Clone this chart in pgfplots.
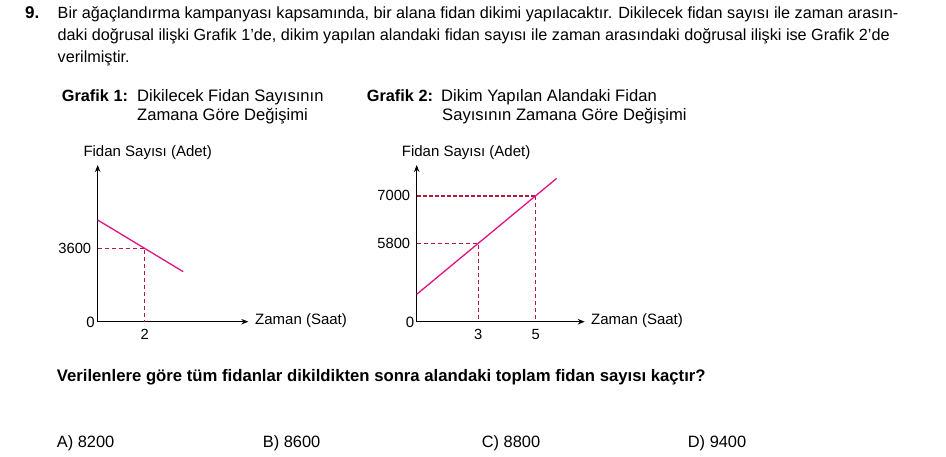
\documentclass[border=0pt]{standalone}
\usepackage{fontspec}
\setmainfont{Liberation Sans}
\usepackage{pgfplots}
\pgfplotsset{compat=1.18}
\usetikzlibrary{arrows.meta}

\definecolor{hatcol}{RGB}{226,18,128}
\definecolor{kesik}{RGB}{178,28,58}

\newcommand\govde{\fontsize{16.2}{18}\selectfont}
\newcommand\baslik{\fontsize{16.6}{18}\selectfont}
\newcommand\eksen{\fontsize{15}{17}\selectfont}

\pgfplotsset{
  grafik/.style={
    axis lines=left,
    axis line style={line width=0.9pt,-{Stealth[length=7pt,width=5.5pt]}},
    scale only axis, clip=false,
    major tick length=0pt,
    /pgf/number format/assume math mode=true,
    /pgf/number format/1000 sep={},
    tick label style={font=\fontsize{14.7}{16}\selectfont},
    xticklabel style={yshift=-4pt},
    yticklabel style={xshift=-3pt},
    anchor=south west, height=156.7pt,
  },
  cizgi/.style={hatcol, line width=1.3pt, no marks},
  ince/.style={kesik, line width=0.8pt, dash pattern=on 4pt off 3pt, no marks},
  kalin/.style={kesik, line width=1.6pt, dash pattern=on 4pt off 2pt, no marks},
}

\begin{document}
\begin{tikzpicture}
\begin{scope}[x=1pt,y=1pt,every node/.style={inner sep=0pt,font=\govde}]
\useasboundingbox (0,0) rectangle (946,-457);

% soru metni
\node[anchor=base west,font=\fontsize{17}{18}\bfseries] at (25,-18.3) {9.};
\node[anchor=base west] at (57.5,-18.3) {Bir ağaçlandırma kampanyası kapsamında, bir alana fidan dikimi yapılacaktır. Dikilecek fidan sayısı ile zaman arasın-};
\node[anchor=base west] at (57.5,-40.7) {daki doğrusal ilişki Grafik 1’de, dikim yapılan alandaki fidan sayısı ile zaman arasındaki doğrusal ilişki ise Grafik 2’de};
\node[anchor=base west] at (57.5,-62.3) {verilmiştir.};

% basliklar
\node[anchor=base west,font=\fontsize{16.3}{18}\bfseries] at (61.7,-101.7) {Grafik 1:};
\node[anchor=base west,font=\baslik] at (137,-101.7) {Dikilecek Fidan Sayısının};
\node[anchor=base west,font=\baslik] at (137,-120.7) {Zamana Göre Değişimi};
\node[anchor=base west,font=\fontsize{16.3}{18}\bfseries] at (366.7,-101.3) {Grafik 2:};
\node[anchor=base west,font=\baslik] at (441,-101.3) {Dikim Yapılan Alandaki Fidan};
\node[anchor=base west,font=\baslik] at (442,-120.3) {Sayısının Zamana Göre Değişimi};

% eksen adlari
\node[anchor=base west,font=\eksen] at (83.3,-156.7) {Fidan Sayısı (Adet)};
\node[anchor=base west,font=\eksen] at (255,-324.3) {Zaman (Saat)};
\node[font=\eksen] at (90.5,-322.5) {0};
\node[anchor=base west,font=\eksen] at (401.7,-156.7) {Fidan Sayısı (Adet)};
\node[anchor=base west,font=\eksen] at (591,-324.3) {Zaman (Saat)};
\node[font=\eksen] at (410,-322.5) {0};

% soru koku ve secenekler
\node[anchor=base west,font=\fontsize{16.7}{18}\bfseries] at (56.7,-381.7) {Verilenlere göre tüm fidanlar dikildikten sonra alandaki toplam fidan sayısı kaçtır?};
\node[anchor=base west,font=\fontsize{16.4}{18}\selectfont] at (56.7,-447) {A) 8200};
\node[anchor=base west,font=\fontsize{16.4}{18}\selectfont] at (262.7,-447) {B) 8600};
\node[anchor=base west,font=\fontsize{16.4}{18}\selectfont] at (481.7,-447) {C) 8800};
\node[anchor=base west,font=\fontsize{16.4}{18}\selectfont] at (687.7,-447) {D) 9400};
\end{scope}

% Grafik 1
\begin{axis}[grafik, at={(97.7pt,-321.7pt)}, width=150.6pt,
  xmin=0, xmax=6.41, ymin=501, ymax=7126,
  xtick={2}, ytick={3600}]
  \addplot[ince] coordinates {(0,3600) (2,3600) (2,501)};
  \addplot[cizgi] coordinates {(0,4800) (3.64,2616)};
\end{axis}

% Grafik 2
\begin{axis}[grafik, at={(416.7pt,-321.7pt)}, width=168pt,
  xmin=0.854, xmax=6.71, ymin=3820, ymax=7778,
  xtick={3,5}, ytick={5800,7000}]
  \addplot[ince] coordinates {(0.854,5800) (3,5800) (3,3820)};
  \addplot[ince] coordinates {(5,7000) (5,3820)};
  \addplot[kalin] coordinates {(0.854,7000) (5,7000)};
  \addplot[cizgi] coordinates {(0.854,4512) (5.73,7438)};
\end{axis}
\end{tikzpicture}
\end{document}
